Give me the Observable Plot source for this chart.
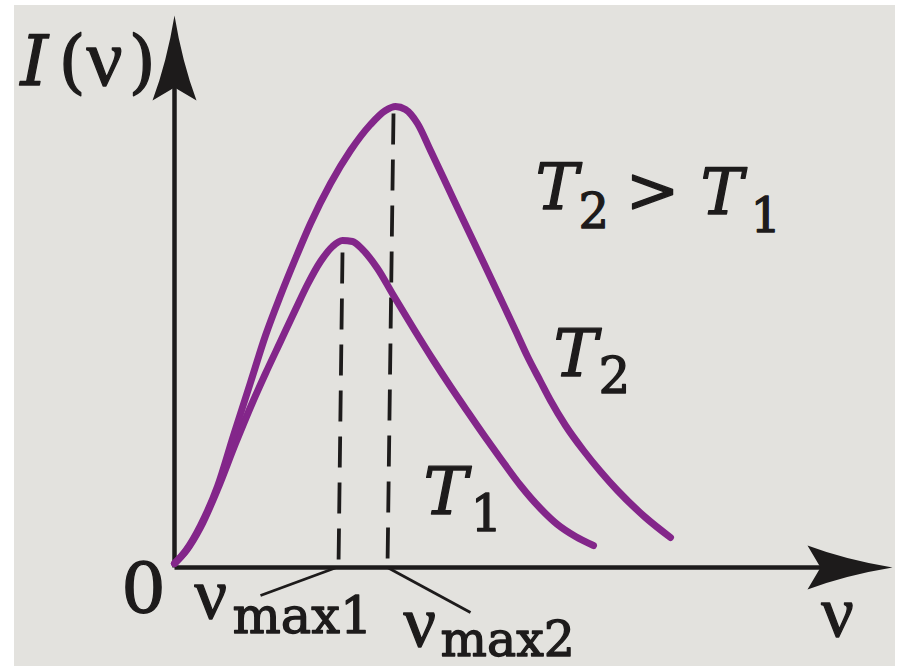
<!DOCTYPE html>
<html><head><meta charset="utf-8">
<script src="https://cdn.jsdelivr.net/npm/d3@7"></script>
<script src="https://cdn.jsdelivr.net/npm/@observablehq/plot@0.6"></script>
<style>body{margin:0;background:#fff}#chart svg{max-width:none}</style>
</head><body><div id="chart"></div>
<script>
// Spectral intensity curves (arbitrary units)
const nuT1 = [0,12,26,43,61,78,91,106,121,133,146,158,168,178,188,203,219,239,259,276,293,311,326,346,366,383,401,419];
const intensityT1 = [4,17,40,78,124,165,194,226,258,283,306,321,327,326,318,299,272,239,207,181,156,130,109,82,59,43,31,22];
const nuT2 = [0,12,26,43,59,76,91,106,121,136,156,176,196,211,221,231,243,256,273,289,309,326,341,353,366,376,391,409,426,443,471,496];
const intensityT2 = [4,18,42,81,132,185,232,272,309,344,384,417,443,457,461,458,444,417,381,347,305,269,237,211,186,167,142,117,96,77,50,30];
// peak frequencies (dashed markers): top and foot of each dashed line
const peakNuTop = [168, 219];
const peakITop = [315, 454];
const peakNuFoot = [164, 213];
// leader lines from peak feet to ν_max labels
const leaderFrom = [[162, 0], [213, 0]];
const leaderTo = [[86, -28], [296, -45]];
// axis extents
const xAxisEnd = 718, yAxisEnd = 552;

const curves = [
  ...nuT1.map((x, i) => ({x, y: intensityT1[i], s: "T1"})),
  ...nuT2.map((x, i) => ({x, y: intensityT2[i], s: "T2"}))
];
const dashes = peakNuTop.map((x, i) => ({x1: x, y1: peakITop[i], x2: peakNuFoot[i], y2: 0}));
const leaders = leaderFrom.map((a, i) => ({x1: a[0], y1: a[1], x2: leaderTo[i][0], y2: leaderTo[i][1]}));
const axes = [
  {x1: 0, y1: 0, x2: 0, y2: yAxisEnd - 60},
  {x1: 0, y1: 0, x2: xAxisEnd - 60, y2: 0}
];
const heads = [{x: 0, y: yAxisEnd, rot: 0}, {x: xAxisEnd, y: 0, rot: 90}];

const arrowHead = {
  draw(ctx, size) {
    const s = Math.sqrt(size / Math.PI) / 10;
    const L = 85 * s, W = 22 * s, N = 13 * s;
    ctx.moveTo(0, 0);
    ctx.quadraticCurveTo(W * 0.35, L * 0.55, W, L);
    ctx.lineTo(0, L - N);
    ctx.lineTo(-W, L);
    ctx.quadraticCurveTo(-W * 0.35, L * 0.55, 0, 0);
    ctx.closePath();
  }
};

const ink = "#1d1b1b";
function label(text, x, y, size, italic, anchor = "start", family = "DejaVu Serif") {
  return Plot.text([{x, y}], {x: "x", y: "y", text: () => text, fontSize: size,
    fontFamily: family, fontStyle: italic ? "italic" : "normal", textAnchor: anchor,
    lineAnchor: "bottom", fill: ink, stroke: ink, strokeWidth: 1.3});
}
const nuFont = "Liberation Serif";

const chart = Plot.plot({
  width: 904, height: 666,
  marginTop: 0, marginRight: 0, marginBottom: 0, marginLeft: 0,
  x: {domain: [0, 720], range: [174, 894], axis: null},
  y: {domain: [0, 560], range: [567, 7], axis: null},
  marks: [
    Plot.link(dashes, {x1: "x1", y1: "y1", x2: "x2", y2: "y2", stroke: ink, strokeWidth: 3.8, strokeDasharray: "31,15"}),
    Plot.link(leaders, {x1: "x1", y1: "y1", x2: "x2", y2: "y2", stroke: ink, strokeWidth: 2.8}),
    Plot.link(axes, {x1: "x1", y1: "y1", x2: "x2", y2: "y2", stroke: ink, strokeWidth: 4.5}),
    Plot.dot(heads, {x: "x", y: "y", r: 10, symbol: arrowHead, rotate: "rot", fill: ink, stroke: "none"}),
    Plot.line(curves, {x: "x", y: "y", z: "s", curve: "monotone-x", stroke: "#83268a", strokeWidth: 7, strokeLinecap: "round"}),
    label("I", -154, 483, 70, true),
    label("(", -116, 483, 70, false),
    label("ν", -88, 483, 80, false, "start", nuFont),
    label(")", -46, 483, 70, false),
    label("0", -31, -45, 70, false, "middle"),
    label("ν", 20, -50, 72, false, "start", nuFont),
    label("max1", 58, -65, 51, false),
    label("ν", 229, -78, 72, false, "start", nuFont),
    label("max2", 266, -88, 49, false),
    label("ν", 663, -68, 72, false, "middle", nuFont),
    label("T", 361, 359, 64, true),
    label("2", 404, 340, 48, false),
    label(">", 478, 356, 64, false, "middle"),
    label("T", 526, 354, 64, true),
    label("1", 576, 336, 48, false),
    label("T", 379, 192, 66, true),
    label("2", 424, 175, 50, false),
    label("T", 249, 54, 66, true),
    label("1", 296, 37, 50, false)
  ]
});
chart.style.background = "linear-gradient(to right, #fff 14px, transparent 14px, transparent 895px, #fff 895px), linear-gradient(to bottom, #fff 5px, #e3e2de 5px)";
chart.style.maxWidth = "none";
document.getElementById("chart").appendChild(chart);
</script>
</body></html>
